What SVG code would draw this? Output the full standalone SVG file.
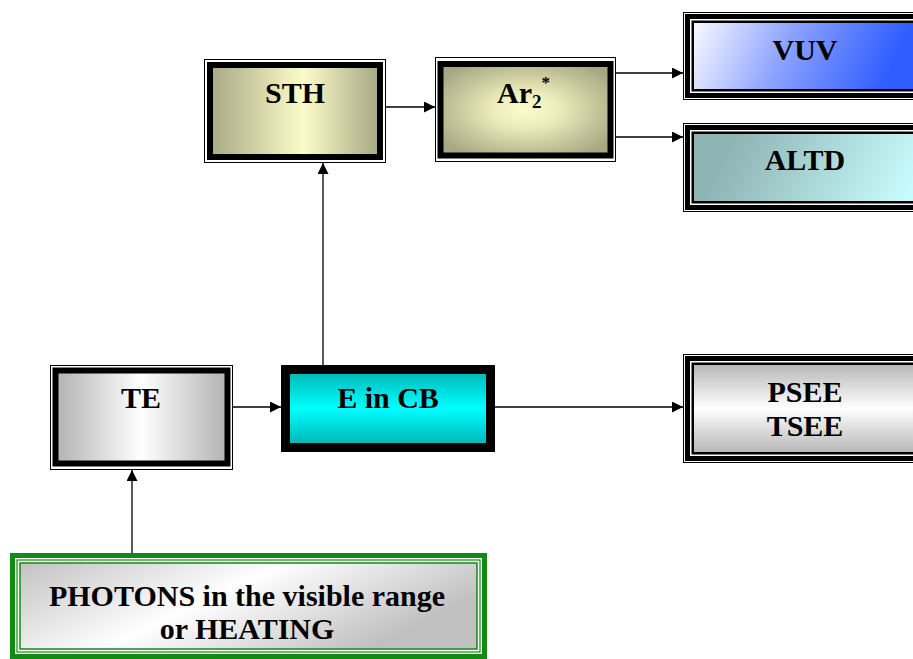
<svg xmlns="http://www.w3.org/2000/svg" width="913" height="659" viewBox="0 0 913 659">
<style>
text{font-family:"Liberation Serif","DejaVu Serif",serif;font-weight:bold;font-size:30px;fill:#000;text-anchor:middle}
.thin{fill:none;stroke:#000;stroke-width:1}
.thick{stroke:#000;stroke-width:6}
.c{fill:none;stroke:#000;stroke-width:1.3}
</style>
<defs>
<marker id="ah" viewBox="0 0 10 10" refX="10" refY="5" markerWidth="11" markerHeight="11" markerUnits="userSpaceOnUse" orient="auto">
<path d="M0,0 L10,5 L0,10 Z" fill="#000"/>
</marker>
<linearGradient id="gSTH" x1="0" y1="0" x2="1" y2="0">
<stop offset="0" stop-color="#a8a884"/><stop offset="0.55" stop-color="#fcfcca"/><stop offset="1" stop-color="#a6a682"/>
</linearGradient>
<radialGradient id="gAr" cx="0.5" cy="0.5" r="0.6">
<stop offset="0" stop-color="#fbfbcd"/><stop offset="0.3" stop-color="#eeeebd"/><stop offset="1" stop-color="#a7a783"/>
</radialGradient>
<linearGradient id="gVUV" gradientUnits="userSpaceOnUse" x1="700" y1="18" x2="880" y2="95">
<stop offset="0" stop-color="#f6f6ff"/><stop offset="0.45" stop-color="#8ea4ff"/><stop offset="1" stop-color="#2f5dff"/>
</linearGradient>
<linearGradient id="gALTD" gradientUnits="userSpaceOnUse" x1="740" y1="130" x2="900" y2="210">
<stop offset="0" stop-color="#8fb4b4"/><stop offset="1" stop-color="#c8fcfc"/>
</linearGradient>
<linearGradient id="gTE" x1="0" y1="0" x2="1" y2="0">
<stop offset="0" stop-color="#b2b2b2"/><stop offset="0.5" stop-color="#ffffff"/><stop offset="1" stop-color="#b2b2b2"/>
</linearGradient>
<linearGradient id="gE" x1="0" y1="0" x2="0" y2="1">
<stop offset="0" stop-color="#00b2b2"/><stop offset="0.5" stop-color="#00ffff"/><stop offset="1" stop-color="#00b0b0"/>
</linearGradient>
<linearGradient id="gPS" x1="0" y1="0" x2="0" y2="1">
<stop offset="0" stop-color="#b6b6b6"/><stop offset="0.5" stop-color="#ffffff"/><stop offset="1" stop-color="#b6b6b6"/>
</linearGradient>
<linearGradient id="gPH" x1="0" y1="0" x2="1" y2="0.4">
<stop offset="0" stop-color="#c2c2c2"/><stop offset="0.5" stop-color="#ffffff"/><stop offset="1" stop-color="#c0c0c0"/>
</linearGradient>
</defs>

<g id="connectors">
<line class="c" x1="132" y1="553" x2="132" y2="470" marker-end="url(#ah)"/>
<line class="c" x1="233" y1="407" x2="281" y2="407" marker-end="url(#ah)"/>
<line class="c" x1="323" y1="365" x2="323" y2="163" marker-end="url(#ah)"/>
<line class="c" x1="386" y1="107" x2="435" y2="107" marker-end="url(#ah)"/>
<line class="c" x1="616" y1="73" x2="683" y2="73" marker-end="url(#ah)"/>
<line class="c" x1="616" y1="137" x2="683" y2="137" marker-end="url(#ah)"/>
<line class="c" x1="495" y1="407" x2="683" y2="407" marker-end="url(#ah)"/>
</g>

<g id="STH">
<rect class="thin" x="204.5" y="59.5" width="181" height="103"/>
<rect class="thick" x="210" y="65" width="170" height="92" fill="url(#gSTH)"/>
<text x="295" y="103">STH</text>
</g>

<g id="Ar2">
<rect class="thin" x="435.5" y="57.5" width="180" height="104"/>
<rect class="thick" x="440.5" y="64" width="170" height="91.5" fill="url(#gAr)"/>
<text x="497" y="103" style="text-anchor:start">Ar<tspan font-size="19" dy="5">2</tspan><tspan font-size="17" dy="-20">*</tspan></text>
</g>

<g id="VUV">
<rect class="thin" x="683.5" y="12.5" width="240" height="87"/>
<rect fill="none" stroke="#000" stroke-width="5" x="687.5" y="16.5" width="240" height="79"/>
<rect stroke="#000" stroke-width="2.5" x="692.75" y="21.75" width="240" height="68.5" fill="url(#gVUV)"/>
<text x="805" y="60">VUV</text>
</g>

<g id="ALTD">
<rect class="thin" x="683.5" y="123.5" width="240" height="88"/>
<rect fill="none" stroke="#000" stroke-width="5" x="687.5" y="127.5" width="240" height="80"/>
<rect stroke="#000" stroke-width="2.5" x="692.75" y="132.75" width="240" height="69.5" fill="url(#gALTD)"/>
<text x="805" y="170">ALTD</text>
</g>

<g id="TE">
<rect class="thin" x="50.5" y="365.5" width="182" height="104"/>
<rect class="thick" x="55.5" y="370.5" width="172" height="93" fill="url(#gTE)"/>
<text x="141" y="408">TE</text>
</g>

<g id="EinCB">
<rect x="285.5" y="369.5" width="205" height="78" stroke="#000" stroke-width="9" fill="url(#gE)"/>
<text x="388" y="408">E in CB</text>
</g>

<g id="PSEE">
<rect class="thin" x="683.5" y="354.5" width="240" height="108"/>
<rect fill="none" stroke="#000" stroke-width="5" x="687.5" y="358.5" width="240" height="100"/>
<rect stroke="#000" stroke-width="2.5" x="692.75" y="363.75" width="240" height="89.5" fill="url(#gPS)"/>
<text x="805" y="402">PSEE</text>
<text x="805" y="436">TSEE</text>
</g>

<g id="PHOTONS">
<rect fill="none" stroke="#138a13" stroke-width="5" x="12.5" y="555.5" width="472" height="101"/>
<rect fill="none" stroke="#138a13" stroke-width="1.2" x="17" y="560" width="463" height="92"/>
<rect stroke="#138a13" stroke-width="1.5" x="20" y="563" width="457" height="86" fill="url(#gPH)"/>
<text x="247" y="606">PHOTONS in the visible range</text>
<text x="247" y="639">or HEATING</text>
</g>
</svg>
